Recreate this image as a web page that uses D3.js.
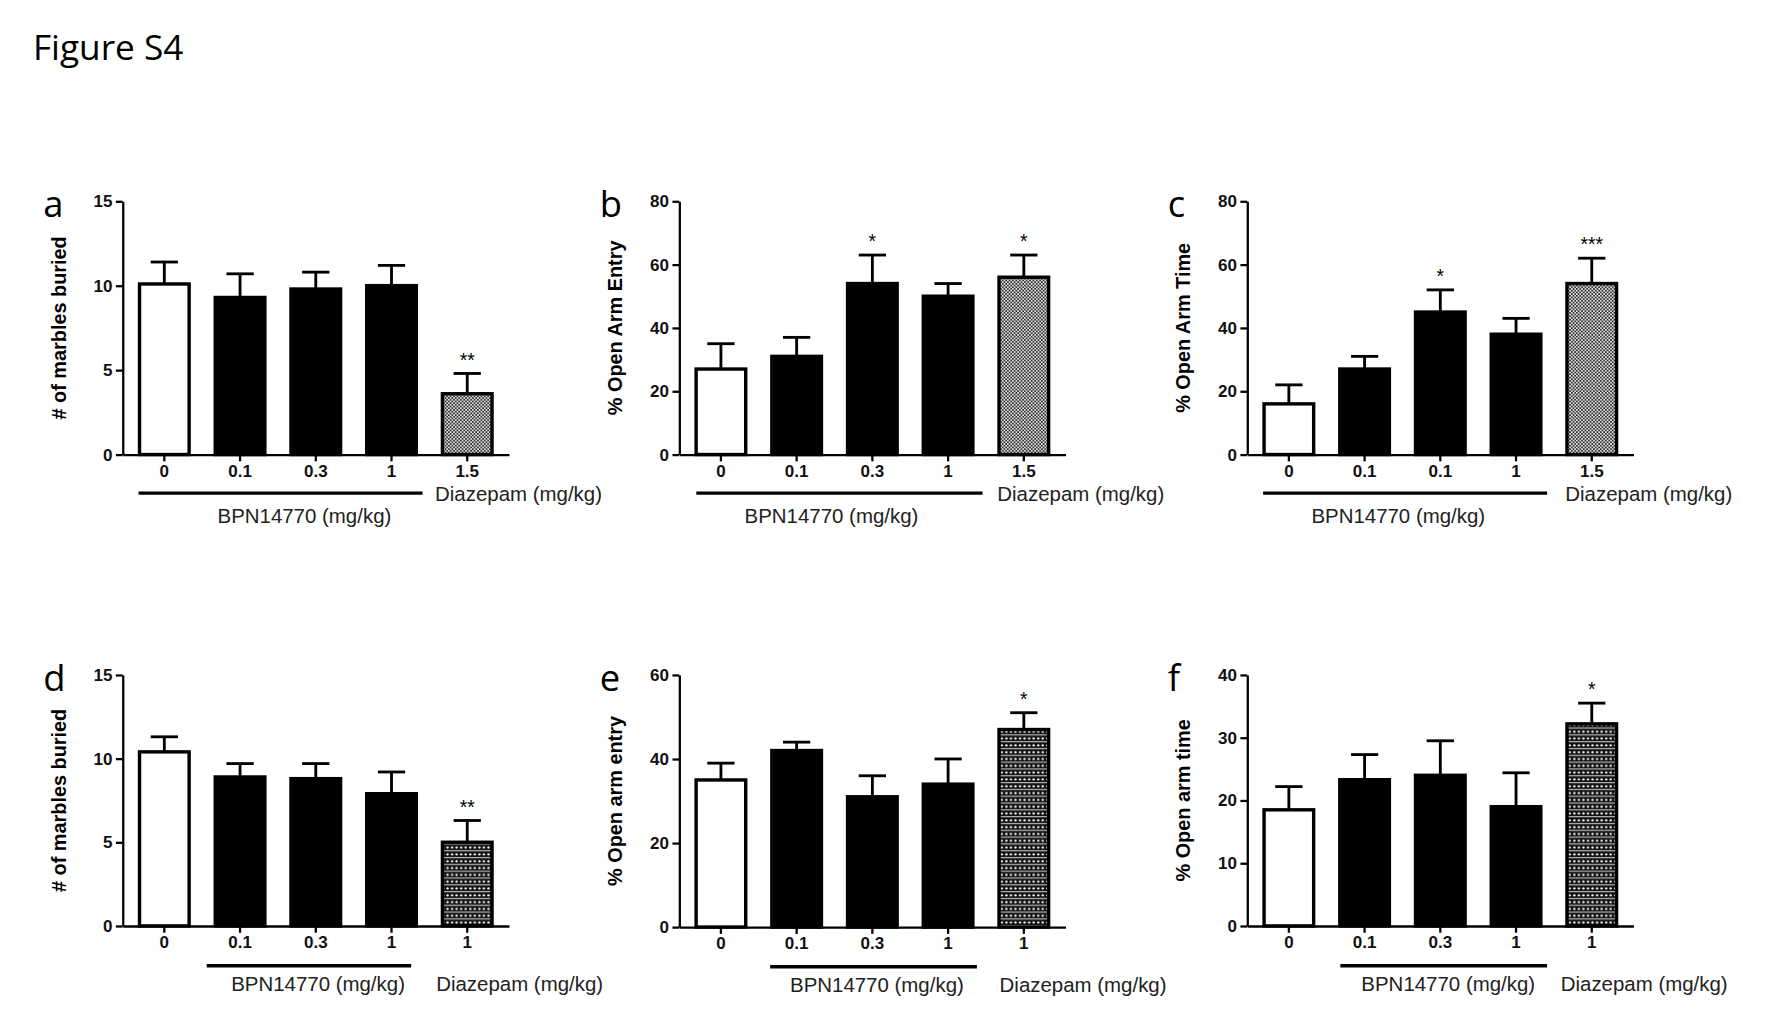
<!DOCTYPE html>
<html><head><meta charset="utf-8">
<script src="https://cdn.jsdelivr.net/npm/d3@7"></script>
<style>body{margin:0;background:#fff}</style>
</head><body>
<script>
// data
var catsTop = ["0", "0.1", "0.3", "1", "1.5"];
var catsC = ["0", "0.1", "0.1", "1", "1.5"];
var catsBottom = ["0", "0.1", "0.3", "1", "1"];

var aMean = [10.1, 9.3, 9.8, 10.0, 3.6], aErr = [1.3, 1.4, 1.0, 1.2, 1.2], aStars = ["", "", "", "", "**"];
var bMean = [27, 31, 54, 50, 56], bErr = [8, 6, 9, 4, 7], bStars = ["", "", "*", "", "*"];
var cMean = [16, 27, 45, 38, 54], cErr = [6, 4, 7, 5, 8], cStars = ["", "", "*", "", "***"];
var dMean = [10.4, 8.9, 8.8, 7.9, 5.0], dErr = [0.9, 0.8, 0.9, 1.3, 1.3], dStars = ["", "", "", "", "**"];
var eMean = [35, 42, 31, 34, 47], eErr = [4, 2, 5, 6, 4], eStars = ["", "", "", "", "*"];
var fMean = [18.5, 23.3, 24, 19, 32.2], fErr = [3.7, 4, 5.5, 5.4, 3.3], fStars = ["", "", "", "", "*"];

var panels = [
  {id:"a", x:108, top:177, zero:400, max:15, ticks:[0,5,10,15], cats:catsTop, m:aMean, e:aErr, s:aStars, yl:"# of marbles buried", row:0, line:[122,372], bpn:268, dz:383},
  {id:"b", x:598, top:177, zero:400, max:80, ticks:[0,20,40,60,80], cats:catsTop, m:bMean, e:bErr, s:bStars, yl:"% Open Arm Entry", row:0, line:[613,865], bpn:732, dz:878},
  {id:"c", x:1098, top:177, zero:400, max:80, ticks:[0,20,40,60,80], cats:catsC, m:cMean, e:cErr, s:cStars, yl:"% Open Arm Time", row:0, line:[1112,1362], bpn:1231, dz:1378},
  {id:"d", x:108, top:594, zero:815, max:15, ticks:[0,5,10,15], cats:catsBottom, m:dMean, e:dErr, s:dStars, yl:"# of marbles buried", row:1, line:[182,362], bpn:280, dz:384},
  {id:"e", x:598, top:594, zero:816, max:60, ticks:[0,20,40,60], cats:catsBottom, m:eMean, e:eErr, s:eStars, yl:"% Open arm entry", row:1, line:[678,860], bpn:772, dz:880},
  {id:"f", x:1098, top:594, zero:815, max:40, ticks:[0,10,20,30,40], cats:catsBottom, m:fMean, e:fErr, s:fStars, yl:"% Open arm time", row:1, line:[1180,1362], bpn:1275, dz:1374}
];

var svg = d3.select("body").append("svg")
  .attr("width", 1772).attr("height", 1034)
  .attr("viewBox", "0 0 1560 910");

var defs = svg.append("defs");
var p1 = defs.append("pattern").attr("id", "checker").attr("width", 3).attr("height", 3).attr("patternUnits", "userSpaceOnUse");
p1.append("rect").attr("width", 3).attr("height", 3).attr("fill", "#ddd");
p1.append("rect").attr("width", 1.5).attr("height", 1.5).attr("fill", "#333");
p1.append("rect").attr("x", 1.5).attr("y", 1.5).attr("width", 1.5).attr("height", 1.5).attr("fill", "#333");
var p2 = defs.append("pattern").attr("id", "dots").attr("width", 4).attr("height", 6).attr("patternUnits", "userSpaceOnUse");
p2.append("rect").attr("width", 4).attr("height", 6).attr("fill", "#111");
p2.append("circle").attr("cx", 2).attr("cy", 2).attr("r", 1).attr("fill", "#fff");
p2.append("rect").attr("y", 4.5).attr("width", 4).attr("height", 0.8).attr("fill", "#eee");

svg.append("text").attr("x", 29).attr("y", 53).attr("font-family", "Open Sans, sans-serif")
  .attr("font-size", 31).text("Figure S4");

panels.forEach(function(p){
  var g = svg.append("g");
  var w = 340;
  var y = d3.scaleLinear().domain([0, p.max]).range([p.zero, p.top]);
  var x = d3.scaleBand().domain(d3.range(5)).range([p.x, p.x + w]).paddingInner(0.3).paddingOuter(0.2);

  var yAxis = d3.axisLeft(y).tickValues(p.ticks).tickSize(6).tickSizeOuter(0);
  var ya = g.append("g").attr("transform", "translate(" + p.x + ",0)").call(yAxis);
  var xAxis = d3.axisBottom(x).tickSize(6).tickSizeOuter(0).tickFormat(function(i){ return p.cats[i]; });
  var xa = g.append("g").attr("transform", "translate(0," + p.zero + ")").call(xAxis);
  [ya, xa].forEach(function(a){
    a.select(".domain").attr("stroke-width", 2);
    a.selectAll(".tick line").attr("stroke-width", 2);
    a.selectAll("text").attr("font-family", "Liberation Sans, Arial, sans-serif")
      .attr("font-weight", "bold").attr("font-size", 15).attr("fill", "#111");
  });

  var bw = x.bandwidth();
  p.m.forEach(function(v, i){
    var cx = x(i) + bw / 2;
    var top = y(v), etop = y(v + p.e[i]);
    g.append("line").attr("x1", cx).attr("x2", cx).attr("y1", top).attr("y2", etop).attr("stroke", "#000").attr("stroke-width", 2.5);
    g.append("line").attr("x1", cx - 12).attr("x2", cx + 12).attr("y1", etop).attr("y2", etop).attr("stroke", "#000").attr("stroke-width", 2.5);
    var fill = i === 0 ? "#fff" : (i === 4 ? (p.row === 0 ? "url(#checker)" : "url(#dots)") : "#000");
    g.append("rect").attr("x", x(i) + 1.5).attr("y", top).attr("width", bw - 3).attr("height", p.zero - top)
      .attr("fill", fill).attr("stroke", "#000").attr("stroke-width", 3);
    if (p.s[i]) g.append("text").attr("x", cx).attr("y", etop - 6).attr("text-anchor", "middle")
      .attr("font-family", "Liberation Sans, Arial, sans-serif").attr("font-size", 17).text(p.s[i]);
  });

  g.append("text").attr("transform", "translate(" + (p.x - 50) + "," + ((p.top + p.zero) / 2) + ") rotate(-90)")
    .attr("text-anchor", "middle").attr("font-family", "Liberation Sans, Arial, sans-serif")
    .attr("font-weight", "bold").attr("font-size", 17.5).text(p.yl);
  g.append("text").attr("x", p.x - 70).attr("y", p.top + 14).attr("font-family", "Open Sans, sans-serif")
    .attr("font-size", 32).text(p.id);

  var ly = p.row === 0 ? p.zero + 34 : p.zero + 35;
  g.append("line").attr("x1", p.line[0]).attr("x2", p.line[1]).attr("y1", ly).attr("y2", ly).attr("stroke", "#000").attr("stroke-width", 3);
  var fs = {"font-family": "Liberation Sans, Arial, sans-serif", "font-size": 18};
  var t1 = g.append("text").attr("x", p.bpn).attr("y", p.row === 0 ? ly + 26 : ly + 22).attr("text-anchor", "middle").text("BPN14770 (mg/kg)");
  var t2 = g.append("text").attr("x", p.dz).attr("y", p.row === 0 ? ly + 7 : ly + 22).text("Diazepam (mg/kg)");
  [t1, t2].forEach(function(t){ for (var k in fs) t.attr(k, fs[k]); t.attr("fill", "#222"); });
});
</script>
</body></html>
